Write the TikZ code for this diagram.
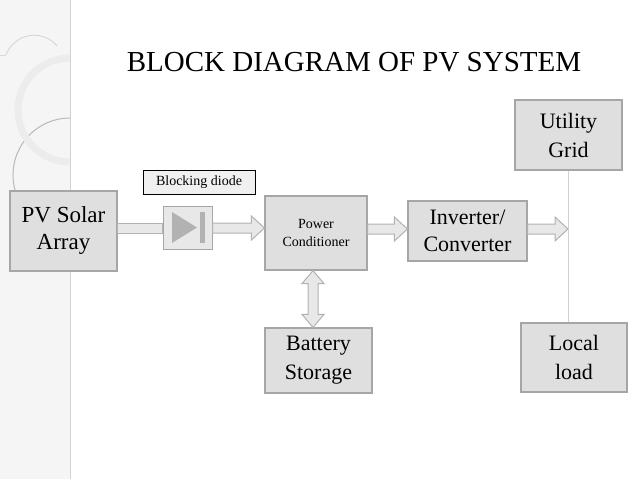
\documentclass[tikz,border=0pt]{standalone}
\usepackage{fontspec}
\setmainfont{Liberation Serif}
\usetikzlibrary{calc}
\tikzset{
  blk/.style={draw=gray!70, fill=gray!25, line width=1.2pt, align=center, inner sep=0pt},
  fat/.style={draw=gray!60, fill=gray!18, line width=1pt, line join=miter},
}
% fat horizontal bar / arrow between two anchors
\newcommand\fatbar[2]{\draw[fat] ($(#1)+(0,-5)$) -- ($(#2)+(0,-5)$) -- ($(#2)+(0,5)$) -- ($(#1)+(0,5)$) -- cycle;}
\newcommand\fatarrow[2]{\draw[fat] ($(#1)+(0,-5)$) -- ($(#2)+(-13,-5)$) -- ($(#2)+(-13,-12)$) -- (#2)
  -- ($(#2)+(-13,12)$) -- ($(#2)+(-13,5)$) -- ($(#1)+(0,5)$) -- cycle;}
\newcommand\fatboth[2]{\draw[fat] (#1) -- ($(#1)+(-11,13)$) -- ($(#1)+(-5,13)$) -- ($(#2)+(-5,-13)$) -- ($(#2)+(-11,-13)$)
  -- (#2) -- ($(#2)+(11,-13)$) -- ($(#2)+(5,-13)$) -- ($(#1)+(5,13)$) -- ($(#1)+(11,13)$) -- cycle;}
\begin{document}
\begin{tikzpicture}[x=1pt,y=-1pt]
  \useasboundingbox (0,0) rectangle (638,479);
  % decorated strip
  \fill[gray!8] (0,0) rectangle (70,479);
  \draw[gray!35, line width=1pt] (70,0) -- (70,479);
  \begin{scope}
    \clip (0,0) rectangle (70,479);
    \draw[gray!55, line width=1pt] (70,118) arc[start angle=-90, end angle=-270, radius=57] ;
    \draw[gray!15, line width=7pt] (70,110) circle[radius=52];
    \draw[gray!35, line width=0.8pt] (6,55) arc[start angle=200, end angle=320, radius=30];
    \draw[gray!30, line width=0.6pt] (0,55) -- (6,55);
  \end{scope}

  \node (title) at (354,62) {\fontsize{29}{29}\selectfont BLOCK DIAGRAM OF PV SYSTEM};

  \node[blk, minimum width=107pt, minimum height=80pt, font=\fontsize{23}{27}\selectfont] (pv) at (63.5,231) {PV Solar\\Array};
  \node[draw=black, fill=gray!12, line width=0.8pt, minimum width=112pt, minimum height=24pt, inner sep=0pt,
    font=\fontsize{14}{14}\selectfont] (lbl) at (199,182.5) {Blocking diode};
  \node[blk, line width=1pt, fill=gray!18, minimum width=49pt, minimum height=43pt] (diode) at (187.5,227.5) {};
  \fill[gray!60] (172,212) -- (197,227.5) -- (172,243) -- cycle;
  \fill[gray!60] (200,212) rectangle (205,243);

  \node[blk, minimum width=102pt, minimum height=74pt, font=\fontsize{14}{18}\selectfont] (pc) at (316,233) {Power\\Conditioner};
  \node[blk, minimum width=119pt, minimum height=60pt, font=\fontsize{22}{27}\selectfont] (inv) at (467.5,231) {Inverter/\\Converter};
  \node[blk, minimum width=107pt, minimum height=70pt, font=\fontsize{22}{29}\selectfont] (grid) at (568.5,135) {Utility\\Grid};
  \node[blk, minimum width=106pt, minimum height=69pt, font=\fontsize{22}{29}\selectfont] (load) at (574,357.5) {Local\\load};
  \node[blk, minimum width=107pt, minimum height=65pt, font=\fontsize{22}{29}\selectfont] (bat) at (318.5,360.5) {Battery\\Storage};

  \coordinate (bus) at (568,229);
  \draw[gray!35, line width=1pt] (grid.south -| bus) -- (load.north -| bus);

  \fatbar{pv.east |- 0,228}{diode.west |- 0,228}
  \fatarrow{diode.east |- 0,228}{pc.west |- 0,228}
  \fatarrow{pc.east |- 0,229}{inv.west |- 0,229}
  \fatarrow{inv.east |- bus}{bus}
  \fatboth{pc.south -| 313,0}{bat.north -| 313,0}
\end{tikzpicture}
\end{document}
